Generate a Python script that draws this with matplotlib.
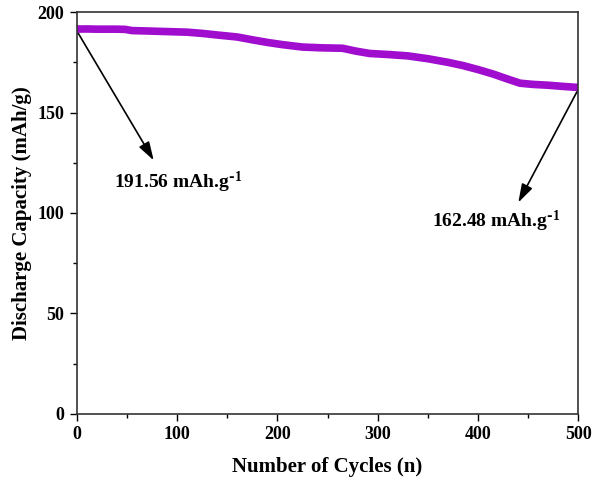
import matplotlib
matplotlib.use("Agg")
import matplotlib.pyplot as plt
from matplotlib.ticker import MultipleLocator

# cycling data: discharge capacity vs cycle number
cycles = [0, 10, 20, 30, 40, 48, 55, 70, 90, 110, 125, 140, 160, 175, 190, 205,
          225, 245, 265, 278, 292, 310, 330, 350, 370, 385, 400, 415, 430, 442,
          455, 470, 485, 500]
capacity = [191.56, 191.6, 191.5, 191.5, 191.5, 191.4, 190.8, 190.6, 190.3, 190.0,
            189.4, 188.6, 187.6, 186.2, 184.9, 183.8, 182.6, 182.2, 182.0, 180.6,
            179.4, 178.9, 178.2, 176.8, 175.0, 173.4, 171.4, 169.2, 166.6, 164.6,
            164.0, 163.6, 163.0, 162.48]

first_label = "191.56 mAh.g$^{\\mathregular{\\text{-}1}}$"
last_label = "162.48 mAh.g$^{\\mathregular{\\text{-}1}}$"

plt.rcParams["font.family"] = "Liberation Serif"
plt.rcParams["font.weight"] = "bold"
plt.rcParams["mathtext.default"] = "regular"

fig = plt.figure(figsize=(6.01, 4.84), dpi=100)
ax = fig.add_axes([0.128, 0.145, 0.834, 0.830])

ax.plot(cycles, capacity, color="#9b00cc", lw=5.5, solid_capstyle="butt",
        solid_joinstyle="round", alpha=0.95)

ax.set_xlim(0, 500)
ax.set_ylim(0, 200)
ax.xaxis.set_major_locator(MultipleLocator(100))
ax.xaxis.set_minor_locator(MultipleLocator(50))
ax.yaxis.set_major_locator(MultipleLocator(50))
ax.yaxis.set_minor_locator(MultipleLocator(25))
ax.tick_params(which="both", direction="out", top=False, right=False, width=1.0)
ax.tick_params(which="major", length=5, labelsize=13, pad=4)
ax.tick_params(which="minor", length=3)
for lab in ax.get_xticklabels() + ax.get_yticklabels():
    lab.set_fontweight("bold")
for sp in ax.spines.values():
    sp.set_linewidth(1.2)
    sp.set_color("#333333")

ax.set_xlabel("Number of Cycles (n)", fontsize=15, fontweight="bold", labelpad=10)
ax.set_ylabel("Discharge Capacity (mAh/g)", fontsize=15, fontweight="bold", labelpad=4)

arrow = dict(arrowstyle="-|>,head_length=0.8,head_width=0.25", color="black",
             lw=1.2, mutation_scale=14)
ax.annotate("", xy=(78, 125), xytext=(cycles[0], capacity[0] - 1), arrowprops=arrow)
ax.text(101, 115, first_label, ha="center", va="center", fontsize=14, fontweight="bold")
ax.annotate("", xy=(439, 104), xytext=(cycles[-1], capacity[-1] - 1), arrowprops=arrow)
ax.text(418, 96, last_label, ha="center", va="center", fontsize=14, fontweight="bold")

fig.savefig("out.png", dpi=100)
